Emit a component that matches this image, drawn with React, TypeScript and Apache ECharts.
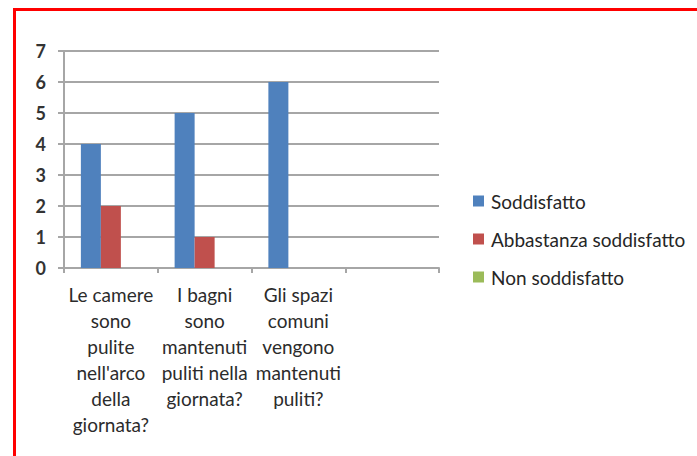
import React, { useEffect, useRef } from "react";
import * as echarts from "echarts";

const categories = [
  "Le camere\nsono\npulite\nnell'arco\ndella\ngiornata?",
  "I bagni\nsono\nmantenuti\npuliti nella\ngiornata?",
  "Gli spazi\ncomuni\nvengono\nmantenuti\npuliti?",
  "",
];
const seriesNames = ["Soddisfatto", "Abbastanza soddisfatto", "Non soddisfatto"];
const soddisfatto = [4, 5, 6, null];
const abbastanza = [2, 1, null, null];
const nonSoddisfatto = [null, null, null, null];
const colors = ["#4F81BD", "#C0504D", "#9BBB59"];
const yTicks = { min: 0, max: 7, interval: 1 };

const FONT = "Lato, 'Open Sans', sans-serif";

export default function App() {
  const ref = useRef<HTMLDivElement>(null);
  useEffect(() => {
    if (!ref.current) return;
    const chart = echarts.init(ref.current, undefined, { renderer: "svg" });
    const values = [soddisfatto, abbastanza, nonSoddisfatto];
    chart.setOption({
      animation: false,
      backgroundColor: "#ffffff",
      color: colors,
      textStyle: { fontFamily: FONT },
      grid: { left: 64, right: 258, top: 51, bottom: 188, containLabel: false },
      legend: {
        orient: "vertical",
        left: 473,
        top: 191,
        padding: 0,
        itemWidth: 11,
        itemHeight: 11,
        itemGap: 18,
        icon: "rect",
        textStyle: { fontFamily: FONT, fontSize: 19, lineHeight: 20, color: "#262626", padding: [0, 0, 0, 2] },
        data: seriesNames,
      },
      xAxis: {
        type: "category",
        data: categories,
        axisLine: { lineStyle: { color: "#a6a6a6", width: 2 } },
        axisTick: { show: true, length: 5, lineStyle: { color: "#a6a6a6", width: 2 } },
        axisLabel: {
          interval: 0,
          fontFamily: FONT,
          fontSize: 19,
          color: "#2b2b2b",
          lineHeight: 26,
          margin: 13,
          align: "center",
        },
      },
      yAxis: {
        type: "value",
        min: yTicks.min,
        max: yTicks.max,
        interval: yTicks.interval,
        axisLine: { show: true, lineStyle: { color: "#a6a6a6", width: 2 } },
        axisTick: { show: true, length: 6, lineStyle: { color: "#a6a6a6", width: 2 } },
        splitLine: { lineStyle: { color: "#a6a6a6", width: 2 } },
        axisLabel: { fontFamily: FONT, fontSize: 18, fontWeight: "bold", color: "#333333", margin: 18 },
      },
      series: values.map((d, i) => ({
        name: seriesNames[i],
        type: "bar",
        data: d,
        barGap: "0%",
        barCategoryGap: "36%",
        itemStyle: { color: colors[i] },
      })),
      graphic: [
        { type: "rect", shape: { x: 13, y: 8, width: 684, height: 3 }, style: { fill: "#ff0000" }, z: 100 },
        { type: "rect", shape: { x: 13, y: 8, width: 3, height: 448 }, style: { fill: "#ff0000" }, z: 100 },
      ],
    });
    return () => chart.dispose();
  }, []);
  return (
    <div
      ref={ref}
      style={{ position: "absolute", left: 0, top: 0, width: 697, height: 456 }}
    />
  );
}
